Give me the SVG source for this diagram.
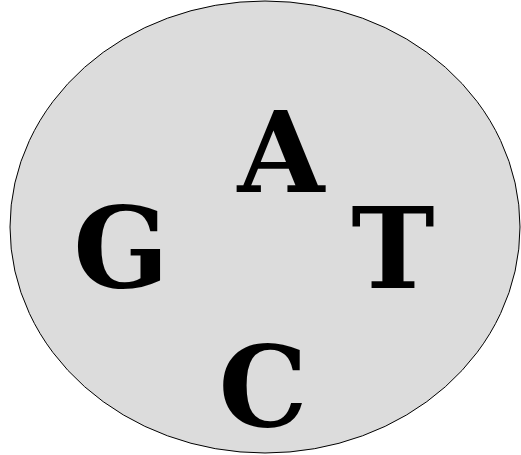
<svg xmlns="http://www.w3.org/2000/svg" width="521" height="455" viewBox="0 0 521 455">
<style>
.l{font-family:"DejaVu Serif",serif;font-weight:bold;font-size:112px;fill:#000;text-anchor:middle}
</style>
<rect width="521" height="455" fill="#fff"/>
<g id="cell"><ellipse cx="265" cy="227" rx="255" ry="226" fill="#dcdcdc" stroke="#000" stroke-width="1"/></g>
<g id="A"><text class="l" x="281" y="192">A</text></g>
<g id="G"><text class="l" x="121" y="287">G</text></g>
<g id="T"><text class="l" x="393" y="288">T</text></g>
<g id="C"><text class="l" x="263" y="426">C</text></g>
</svg>
